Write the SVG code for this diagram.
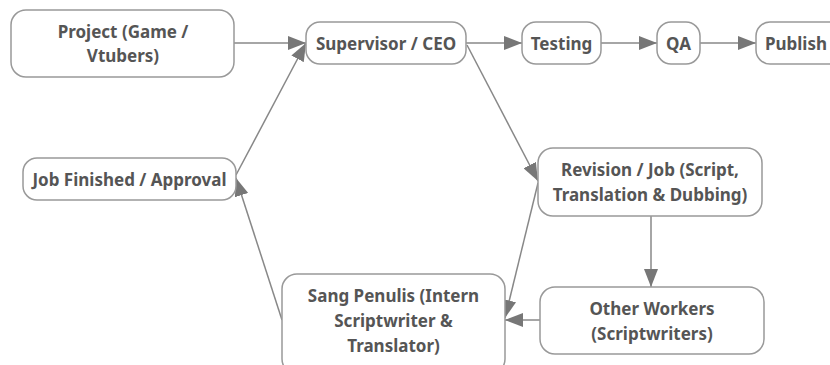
<svg xmlns="http://www.w3.org/2000/svg" width="830" height="365" viewBox="0 0 830 365">
<style>
.n rect{fill:#fff;stroke:#999;stroke-width:1.5}
.n text{font-family:"Noto Sans","Open Sans","DejaVu Sans",sans-serif;font-weight:bold;font-size:17px;fill:#555;text-anchor:middle;dominant-baseline:central}
.c line{stroke:#888;stroke-width:1.5;marker-end:url(#ah)}
</style>
<defs>
<marker id="ah" markerUnits="userSpaceOnUse" markerWidth="18" markerHeight="14" refX="18" refY="7" orient="auto">
<path d="M0,0 L18,7 L0,14 z" fill="#777"/>
</marker>
</defs>
<rect width="830" height="365" fill="#fff"/>
<g class="c" id="connectors">
<line x1="234" y1="43" x2="306" y2="43"/>
<line x1="466" y1="43" x2="522" y2="43"/>
<line x1="601" y1="43" x2="657" y2="43"/>
<line x1="700" y1="43" x2="756" y2="43"/>
<line x1="467" y1="45" x2="538" y2="181"/>
<line x1="538" y1="183" x2="505" y2="318"/>
<line x1="651" y1="216" x2="651" y2="287"/>
<line x1="540" y1="320" x2="505" y2="320"/>
<line x1="282" y1="320" x2="236" y2="178"/>
<line x1="236" y1="175" x2="306" y2="43"/>
</g>
<g class="n" id="project"><rect x="11" y="10" width="223" height="67" rx="15"/><text x="123" y="31">Project (Game /</text><text x="123" y="55">Vtubers)</text></g>
<g class="n" id="supervisor"><rect x="306" y="22" width="160" height="42" rx="14"/><text x="386" y="43">Supervisor / CEO</text></g>
<g class="n" id="testing"><rect x="522" y="22" width="79" height="42" rx="14"/><text x="561.5" y="43">Testing</text></g>
<g class="n" id="qa"><rect x="657" y="22" width="43" height="42" rx="14"/><text x="678.5" y="43">QA</text></g>
<g class="n" id="publish"><rect x="756" y="22" width="90" height="42" rx="14"/><text x="796" y="43">Publish</text></g>
<g class="n" id="jobfinished"><rect x="23" y="158" width="213" height="42" rx="14"/><text x="129.5" y="179">Job Finished / Approval</text></g>
<g class="n" id="revision"><rect x="538" y="148" width="224" height="68" rx="15"/><text x="650" y="169">Revision / Job (Script,</text><text x="650" y="194">Translation &amp; Dubbing)</text></g>
<g class="n" id="otherworkers"><rect x="540" y="287" width="224" height="67" rx="15"/><text x="652" y="308">Other Workers</text><text x="652" y="333">(Scriptwriters)</text></g>
<g class="n" id="sangpenulis"><rect x="282" y="274" width="223" height="100" rx="15"/><text x="393.5" y="295">Sang Penulis (Intern</text><text x="393.5" y="320">Scriptwriter &amp;</text><text x="393.5" y="345">Translator)</text></g>
</svg>
